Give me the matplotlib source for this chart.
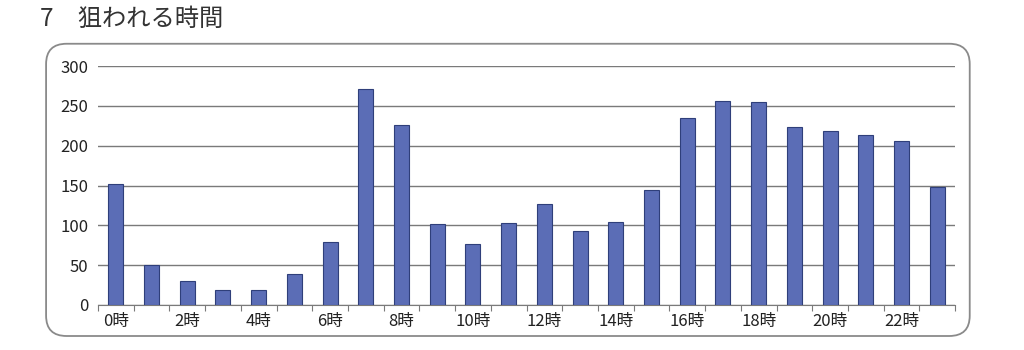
import matplotlib
matplotlib.use("Agg")
import matplotlib.pyplot as plt
from matplotlib.patches import FancyBboxPatch

plt.rcParams['font.family'] = ['Noto Sans CJK JP', 'DejaVu Sans']

# Data
hours = list(range(24))
counts = [152, 50, 30, 19, 19, 39, 79, 271, 226, 102, 77, 103,
          127, 93, 104, 144, 235, 256, 255, 223, 218, 213, 206, 148]
tick_labels = [f"{h}時" for h in range(0, 24, 2)]
title = "7　狙われる時間"

fig = plt.figure(figsize=(10.24, 3.5), dpi=100)
fig.patch.set_facecolor('white')

# rounded frame around the chart
frame = FancyBboxPatch((0.045, 0.04), 0.902, 0.835,
                       boxstyle="round,pad=0,rounding_size=0.02",
                       transform=fig.transFigure, facecolor='white',
                       edgecolor='#8a8a8a', linewidth=1.3, zorder=-5,
                       mutation_aspect=2.9)
fig.patches.append(frame)

fig.text(0.039, 0.945, title, fontsize=17.5, color='#333333', va='center')

ax = fig.add_axes([0.0957, 0.1286, 0.837, 0.6826])
ax.set_zorder(2)
ax.set_facecolor('none')
ax.bar(hours, counts, width=0.42, color='#5b6db6', edgecolor='#2f3f7a',
       linewidth=0.8, zorder=3)

ax.set_xlim(-0.5, 23.5)
ax.set_ylim(0, 300)
ax.set_yticks(range(0, 301, 50))
ax.yaxis.grid(True, color='#7a7a7a', linewidth=1.0, zorder=0)
ax.tick_params(axis='y', length=0, labelsize=12, colors='#222222', pad=7)

# ticks at category boundaries, labels at every second hour
ax.set_xticks([h - 0.5 for h in range(25)])
ax.set_xticklabels([])
ax.set_xticks(range(0, 24, 2), minor=True)
ax.set_xticklabels(tick_labels, minor=True)
ax.tick_params(axis='x', which='major', length=4, color='#7a7a7a', direction='out')
ax.tick_params(axis='x', which='minor', length=0, labelsize=12, colors='#222222', pad=6)

for s in ['top', 'right', 'left']:
    ax.spines[s].set_visible(False)
ax.spines['bottom'].set_color('#7a7a7a')

fig.savefig("out.png", dpi=100)
